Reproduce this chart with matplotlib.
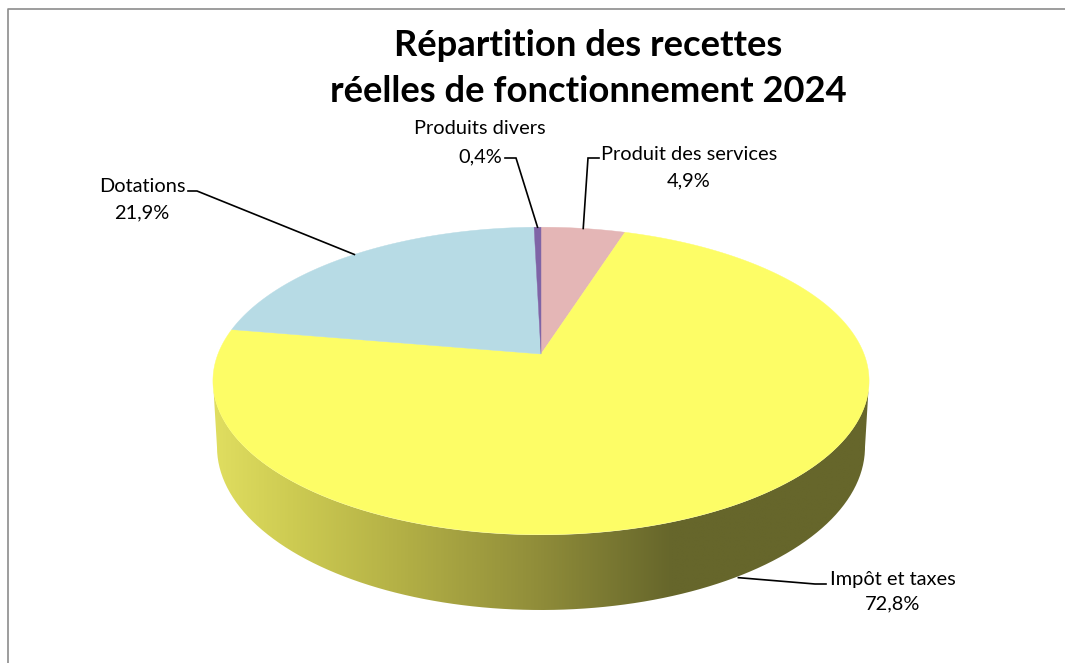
import numpy as np
import matplotlib
matplotlib.use('Agg')
import matplotlib.pyplot as plt
from matplotlib.colors import LinearSegmentedColormap
from matplotlib.patches import PathPatch, Polygon
from matplotlib.path import Path

# Data ------------------------------------------------------------------------
categories = ['Produit des services', 'Impôt et taxes', 'Dotations', 'Produits divers']
shares = [4.9, 72.8, 21.9, 0.4]
share_labels = ['4,9%', '72,8%', '21,9%', '0,4%']
colors = ['#E4B6B6', '#FDFD66', '#B7DBE5', '#7F64A6']
TITLE = 'Répartition des recettes\nréelles de fonctionnement 2024'
# Pie geometry (pixels) -------------------------------------------------------
(CX, CY) = (541, 354)
(KX, KY, PERSP) = (323, 149, 0.175)
DEPTH = 74
(LOW_CY, LOW_RX, LOW_RY) = (447, 324, 163)
(TOP_CY, TOP_RX, TOP_RY) = (381, 328, 154)
###############################################################################
# Helpers
###############################################################################
def project(t):
    # Clockwise angle from the top of the pie -> tilted screen position
    (u, v) = (np.sin(t), np.cos(t))
    w = 1 + PERSP*v
    return (CX + KX*u/w, CY - KY*v/w)

def toAngle(pct):
    return np.asarray(pct)*2*np.pi/100

###############################################################################
# Figure
###############################################################################
plt.rcParams['font.family'] = ['Lato', 'DejaVu Sans']
fig = plt.figure(figsize=(10.65, 6.63), dpi=100, facecolor='white')
ax = fig.add_axes([0, 0, 1, 1])
ax.set_axis_off()
# Chart frame: only left and top are inside the picture -----------------------
ax.plot([7.5, 7.5, 1065], [663, 8.5, 8.5], color='#8C8C8C', lw=1.2, zorder=1)
# Side of the pie -------------------------------------------------------------
s = np.linspace(np.pi/2, -np.pi/2, 200)
topX = CX + TOP_RX*np.sin(s)
topY = TOP_CY + TOP_RY*np.cos(s)
lowX = CX + LOW_RX*np.sin(s[::-1])
lowY = LOW_CY + LOW_RY*np.cos(s[::-1])
sideXY = np.vstack([
    np.column_stack([topX, topY]),
    np.column_stack([lowX, lowY]),
    [topX[0], topY[0]]
])
shade = LinearSegmentedColormap.from_list('side', [
    (0.0, '#E0DE60'), (0.12, '#CDCB52'), (0.28, '#B4B146'),
    (0.49, '#918E3A'), (0.70, '#66662B'), (1.0, '#66662B')
])
im = ax.imshow(
    np.linspace(0, 1, 512).reshape(1, -1), cmap=shade, aspect='auto',
    extent=(213, 869, 615, 375), zorder=2, interpolation='bilinear'
)
clip = PathPatch(Path(sideXY), transform=ax.transData, fc='none', ec='none')
ax.add_patch(clip)
im.set_clip_path(clip)
# Top of the pie --------------------------------------------------------------
edges = np.cumsum([0] + shares)
for (i, col) in enumerate(colors):
    ang = np.linspace(toAngle(edges[i]), toAngle(edges[i+1]), 240)
    (px, py) = project(ang)
    xy = np.vstack([[CX, CY], np.column_stack([px, py])])
    ax.add_patch(Polygon(xy, closed=True, fc=col, ec=col, lw=0.3, zorder=3))
# Labels and leader lines -----------------------------------------------------
mids = toAngle((edges[:-1] + edges[1:])/2)
anchors = [project(m) for m in mids]
anchors[1] = (anchors[1][0], anchors[1][1] + DEPTH)
leaders = [
    [(599, 158), (588, 158)],
    [(826, 584), (815, 584)],
    [(188, 191), (197, 191)],
    [(505, 158), (516, 158)]
]
for (pts, anc) in zip(leaders, anchors):
    xs = [p[0] for p in pts] + [anc[0]]
    ys = [p[1] for p in pts] + [anc[1]]
    ax.plot(xs, ys, color='black', lw=1.2, zorder=4, solid_joinstyle='miter')
labelPos = [(689, 155, 181), (893, 579, 604), (142, 187, 213), (480, 129, 157)]
for (cat, lab, (lx, y1, y2)) in zip(categories, share_labels, labelPos):
    ax.text(lx, y1, cat, ha='center', va='center', fontsize=14.4, color='black', zorder=5)
    ax.text(lx, y2, lab, ha='center', va='center', fontsize=14.4, color='black', zorder=5)
# Title -----------------------------------------------------------------------
for (line, y) in zip(TITLE.split('\n'), (46, 92)):
    ax.text(588, y, line, ha='center', va='center', fontsize=26.2, fontweight='bold', color='black', zorder=5)
ax.set_xlim(0, 1065)
ax.set_ylim(663, 0)
fig.savefig('out.png', dpi=100, facecolor='white')
